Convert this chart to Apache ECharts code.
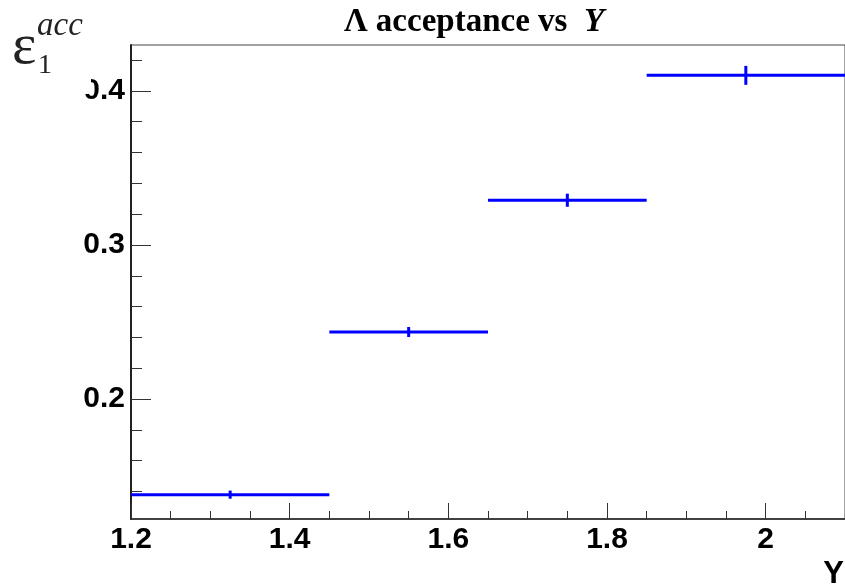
<!DOCTYPE html>
<html>
<head>
<meta charset="utf-8">
<title>Lambda acceptance vs Y</title>
<script src="https://cdn.jsdelivr.net/npm/echarts@6/dist/echarts.min.js"></script>
<style>
  html, body { margin: 0; padding: 0; background: #fff; }
  #chart { width: 845px; height: 588px; }
</style>
</head>
<body>
<div id="chart"></div>
<script>
// 数据：每个 Y 区间的接受度与误差
const binLow = [1.2, 1.45, 1.65, 1.85]
const binHigh = [1.45, 1.65, 1.85, 2.1]
const binCenter = [1.325, 1.55, 1.75, 1.975]
const acceptance = [0.138, 0.2435, 0.329, 0.410]
const acceptanceErr = [0.002, 0.0026, 0.0036, 0.0055]

// 坐标轴刻度
const xMajorTicks = [1.2, 1.4, 1.6, 1.8, 2.0]
const xMinorTicks = [1.25, 1.3, 1.35, 1.45, 1.5, 1.55, 1.65, 1.7, 1.75, 1.85, 1.9, 1.95, 2.05]
const yMajorTicks = [0.2, 0.3, 0.4]
const yMinorTicks = [0.14, 0.16, 0.18, 0.22, 0.24, 0.26, 0.28, 0.32, 0.34, 0.36, 0.38, 0.42]

const X_MIN = 1.2
const X_MAX = 2.1
const Y_MIN = 0.1222
const Y_MAX = 0.4297

const rows = binLow.map((lo, i) => [lo, binHigh[i], acceptance[i], binCenter[i], acceptanceErr[i]])

const labelFont = { fontFamily: 'Liberation Sans', fontWeight: 'bold', fontSize: 30, color: '#000' }
const axisColor = '#222'

const chart = echarts.init(document.getElementById('chart'), null, { renderer: 'canvas' })

const option = {
  animation: false,
  backgroundColor: '#fff',
  grid: {
    left: 131, right: -2, top: 45, bottom: 69,
    show: true, borderColor: '#444', borderWidth: 1
  },
  xAxis: [
    {
      type: 'value', min: X_MIN, max: X_MAX,
      axisLine: { show: true, lineStyle: { color: axisColor, width: 1.5 } },
      axisTick: { show: true, inside: true, length: 16, customValues: xMajorTicks, lineStyle: { color: '#333', width: 1 } },
      axisLabel: { show: true, customValues: xMajorTicks, margin: 6, ...labelFont },
      splitLine: { show: false }
    },
    {
      type: 'value', min: X_MIN, max: X_MAX, position: 'bottom',
      axisLine: { show: false },
      axisTick: { show: true, inside: true, length: 8, customValues: xMinorTicks, lineStyle: { color: '#333', width: 1 } },
      axisLabel: { show: false },
      splitLine: { show: false }
    }
  ],
  yAxis: [
    {
      type: 'value', min: Y_MIN, max: Y_MAX,
      axisLine: { show: true, lineStyle: { color: axisColor, width: 2 } },
      axisTick: { show: true, inside: true, length: 20, customValues: yMajorTicks, lineStyle: { color: '#333', width: 1 } },
      axisLabel: { show: true, customValues: yMajorTicks, margin: 6, ...labelFont },
      splitLine: { show: false }
    },
    {
      type: 'value', min: Y_MIN, max: Y_MAX, position: 'left',
      axisLine: { show: false },
      axisTick: { show: true, inside: true, length: 11, customValues: yMinorTicks, lineStyle: { color: '#333', width: 1 } },
      axisLabel: { show: false },
      splitLine: { show: false }
    }
  ],
  series: [{
    type: 'custom',
    xAxisIndex: 0,
    yAxisIndex: 0,
    data: rows,
    encode: { x: [0, 1, 3], y: [2] },
    clip: false,
    renderItem: function (params, api) {
      const y = api.value(2)
      const err = api.value(4)
      const left = api.coord([api.value(0), y])
      const right = api.coord([api.value(1), y])
      const top = api.coord([api.value(3), y + err])
      const bottom = api.coord([api.value(3), y - err])
      const style = { stroke: '#0000ff', lineWidth: 3 }
      return {
        type: 'group',
        children: [
          { type: 'line', shape: { x1: left[0], y1: left[1], x2: right[0], y2: right[1] }, style },
          { type: 'line', shape: { x1: top[0], y1: top[1] - 1, x2: bottom[0], y2: bottom[1] + 1 }, style }
        ]
      }
    }
  }],
  graphic: [
    // 标题
    {
      type: 'text', z: 100,
      x: 474, y: 22,
      style: {
        text: 'Λ acceptance vs  {i|Y}',
        align: 'center', verticalAlign: 'middle',
        fontFamily: 'Liberation Serif', fontWeight: 'bold', fontSize: 33, fill: '#000',
        rich: { i: { fontFamily: 'Liberation Serif', fontWeight: 'bold', fontStyle: 'italic', fontSize: 33 } }
      }
    },
    // y 轴标题的白色底框（遮住 0.4 的左半边）
    { type: 'rect', z: 100, shape: { x: 0, y: 0, width: 91, height: 94 }, style: { fill: '#fff' } },
    { type: 'text', z: 101, x: 12, y: 48, style: { text: 'ε', fontFamily: 'Liberation Serif', fontSize: 58, fill: '#222', verticalAlign: 'middle' } },
    { type: 'text', z: 101, x: 38, y: 66, style: { text: '1', fontFamily: 'Liberation Serif', fontSize: 28, fill: '#222', verticalAlign: 'middle' } },
    { type: 'text', z: 101, x: 37, y: 26, style: { text: 'acc', fontFamily: 'Liberation Serif', fontStyle: 'italic', fontSize: 33, fill: '#222', verticalAlign: 'middle' } },
    // x 轴标题
    { type: 'text', z: 101, x: 844, y: 574, style: { text: 'Y', fontFamily: 'Liberation Sans', fontWeight: 'bold', fontSize: 31, fill: '#000', align: 'right', verticalAlign: 'middle' } }
  ]
}

chart.setOption(option)
</script>
</body>
</html>
